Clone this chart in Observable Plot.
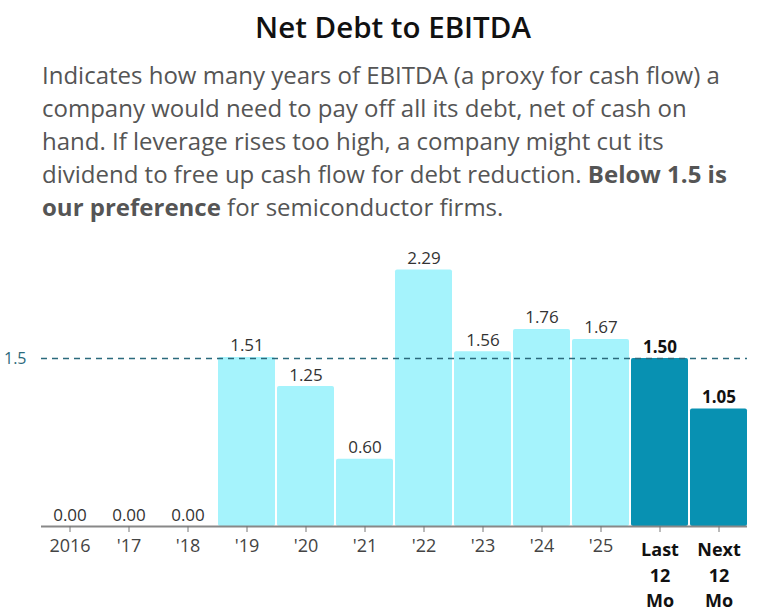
<!DOCTYPE html>
<html>
<head>
<meta charset="utf-8">
<script src="https://cdn.jsdelivr.net/npm/d3@7"></script>
<script src="https://cdn.jsdelivr.net/npm/@observablehq/plot@0.6"></script>
<style>
  html, body { margin: 0; padding: 0; background: #fff; overflow: hidden; }
  body { width: 762px; font-family: "Open Sans", sans-serif; }
  #title { height: 58px; line-height: 54px; font-size: 29.5px; font-weight: 600; color: #111; text-align: center; padding-left: 24px; box-sizing: border-box; }
  #sub { margin-left: 42px; font-size: 24px; line-height: 33px; color: #555; white-space: nowrap; height: 165px; }
  #sub b { font-weight: 700; color: #555; }
  #chart svg { display: block; }
</style>
</head>
<body>
<div id="title">Net Debt to EBITDA</div>
<div id="sub">Indicates how many years of EBITDA (a proxy for cash flow) a<br>company would need to pay off all its debt, net of cash on<br>hand. If leverage rises too high, a company might cut its<br>dividend to free up cash flow for debt reduction. <b>Below 1.5 is</b><br><b>our preference</b> for semiconductor firms.</div>
<div id="chart"></div>
<script>
const categories = ["2016", "'17", "'18", "'19", "'20", "'21", "'22", "'23", "'24", "'25", "Last\n12\nMo", "Next\n12\nMo"];
const values = [0.00, 0.00, 0.00, 1.51, 1.25, 0.60, 2.29, 1.56, 1.76, 1.67, 1.50, 1.05];
const recent = [false, false, false, false, false, false, false, false, false, false, true, true];
const threshold = 1.5;
const yTicks = [1.5];

const data = categories.map((c, i) => ({cat: c, value: values[i], recent: recent[i]}));
const past = data.filter(d => !d.recent);
const cur = data.filter(d => d.recent);

const chart = Plot.plot({
  width: 762,
  height: 388,
  marginLeft: 41,
  marginRight: 15,
  marginTop: 20,
  marginBottom: 85,
  style: {fontFamily: "'Open Sans', sans-serif", background: "#fff"},
  x: {domain: categories, paddingInner: 0.04, paddingOuter: 0, label: null},
  y: {domain: [0, 2.527], label: null},
  marks: [
    Plot.barY(past, {x: "cat", y: "value", fill: "#a5f3fc", rx: 2}),
    Plot.barY(cur, {x: "cat", y: "value", fill: "#0891b2", rx: 2}),
    Plot.ruleY([threshold], {stroke: "#2b6a7c", strokeWidth: 1.5, strokeDasharray: "6,5"}),
    Plot.ruleY([0], {stroke: "#888", strokeWidth: 2}),
    Plot.axisX({tickSize: 6, stroke: "#777", tickFormat: () => "", label: null}),
    Plot.axisY({ticks: yTicks, tickSize: 0, tickPadding: 15, tickFormat: d => String(d), fill: "#2b6a7c", fontSize: 16, label: null}),
    Plot.text(past, {x: "cat", y: "value", text: d => d.value.toFixed(2), lineAnchor: "bottom", dy: -6, fontSize: 17, fill: "#333"}),
    Plot.text(cur, {x: "cat", y: "value", text: d => d.value.toFixed(2), lineAnchor: "bottom", dy: -6, fontSize: 17, fontWeight: 700, fill: "#111"}),
    Plot.text(past, {x: "cat", y: () => 0, text: "cat", lineAnchor: "top", dy: 13, fontSize: 18, fill: "#444"}),
    Plot.text(cur, {x: "cat", y: () => 0, text: "cat", lineAnchor: "top", dy: 12, fontSize: 18, fontWeight: 700, fill: "#111", lineHeight: 1.4})
  ]
});
document.getElementById("chart").appendChild(chart);
</script>
</body>
</html>
